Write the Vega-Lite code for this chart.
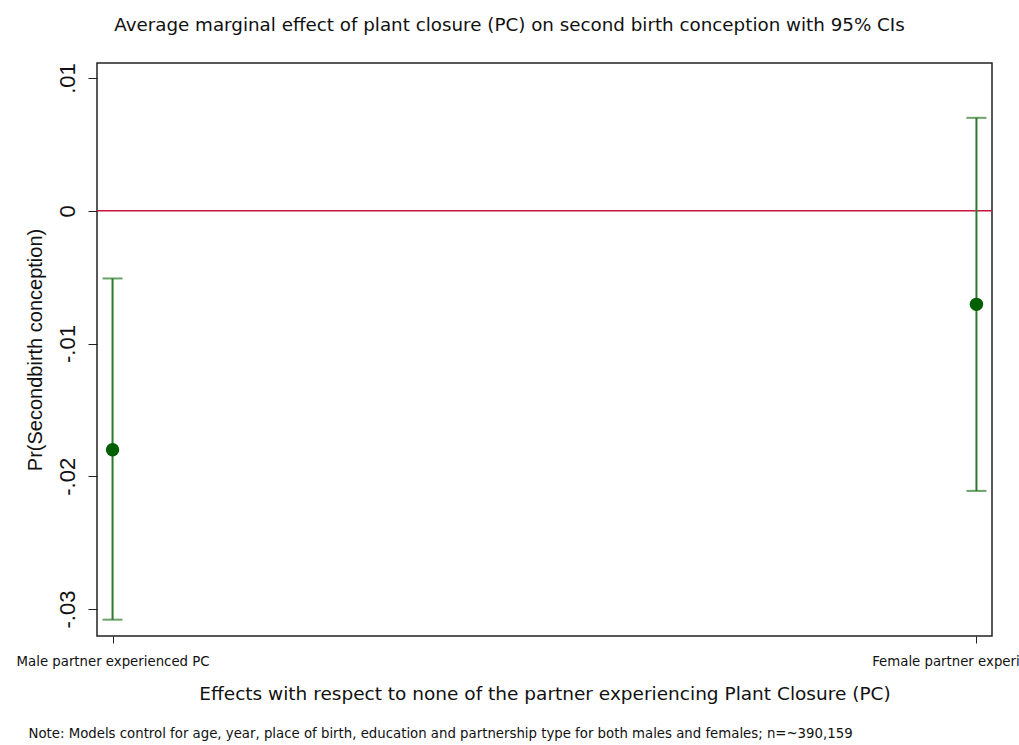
{
  "$schema": "https://vega.github.io/schema/vega-lite/v6.json",
  "autosize": {"type": "none"},
  "width": 895,
  "height": 573,
  "padding": {"left": 97, "top": 63, "right": 27, "bottom": 109},
  "background": "white",
  "title": {
    "text": "Average marginal effect of plant closure (PC) on second birth conception with 95% CIs",
    "anchor": "middle",
    "frame": "group",
    "dx": -35,
    "offset": 27,
    "font": "DejaVu Sans",
    "fontSize": 18.3,
    "fontWeight": "normal",
    "color": "#111111"
  },
  "config": {
    "font": "Liberation Sans",
    "view": {"stroke": "#222222", "strokeWidth": 1.5},
    "axis": {"grid": false, "domain": false, "tickColor": "#222222", "labelColor": "#111111", "titleColor": "#111111", "titleFontWeight": "normal"}
  },
  "datasets": {
    "effects": [
      {"group": "Male partner experienced PC", "effect": -0.0180, "lo": -0.0308, "hi": -0.0051},
      {"group": "Female partner experienced PC", "effect": -0.00705, "lo": -0.0211, "hi": 0.0070}
    ],
    "reference": [{"ref": 0}]
  },
  "resolve": {"axis": {"x": "independent"}},
  "layer": [
    {
      "data": {"name": "reference"},
      "mark": {"type": "rule", "color": "#c8143c", "strokeWidth": 1.6},
      "encoding": {
        "y": {"field": "ref", "type": "quantitative",
              "scale": {"domain": [-0.03203, 0.01113], "nice": false, "zero": false},
              "axis": {"title": "Pr(Secondbirth conception)", "values": [-0.03, -0.02, -0.01, 0, 0.01],
                       "labelExpr": "datum.value == 0 ? '0' : (datum.value < 0 ? '-' : '') + '.0' + abs(round(datum.value * 100))",
                       "labelAngle": -90, "labelAlign": "center", "labelBaseline": "alphabetic",
                       "labelFontSize": 22, "labelPadding": 14, "tickSize": 9,
                       "titleFontSize": 20, "titlePadding": 11}}
      }
    },
    {
      "data": {"name": "effects"},
      "mark": {"type": "rule", "color": "#2b7a2b", "strokeWidth": 2},
      "encoding": {
        "x": {"field": "group", "type": "nominal", "sort": null,
              "scale": {"type": "point", "padding": 0.018},
              "axis": {"orient": "bottom", "title": "Effects with respect to none of the partner experiencing Plant Closure (PC)",
                       "labelAngle": 0, "labelFont": "DejaVu Sans", "labelFontSize": 13.3, "labelPadding": 11, "tickSize": 7,
                       "labelLimit": 0,
                       "titleFont": "DejaVu Sans", "titleFontSize": 18.5, "titlePadding": 17,
                       "labelOverlap": false, "labelBound": false, "labelFlush": false}},
        "y": {"field": "lo", "type": "quantitative",
              "scale": {"domain": [-0.03203, 0.01113], "nice": false, "zero": false},
              "axis": {"title": "Pr(Secondbirth conception)", "values": [-0.03, -0.02, -0.01, 0, 0.01],
                       "labelExpr": "datum.value == 0 ? '0' : (datum.value < 0 ? '-' : '') + '.0' + abs(round(datum.value * 100))",
                       "labelAngle": -90, "labelAlign": "center", "labelBaseline": "alphabetic",
                       "labelFontSize": 22, "labelPadding": 14, "tickSize": 9,
                       "titleFontSize": 20, "titlePadding": 11}},
        "y2": {"field": "hi"}
      }
    },
    {
      "data": {"name": "effects"},
      "mark": {"type": "tick", "orient": "horizontal", "color": "#2b7a2b", "size": 20, "thickness": 2},
      "encoding": {
        "x": {"field": "group", "type": "nominal", "sort": null,
              "scale": {"type": "point", "padding": 0.018},
              "axis": {"orient": "bottom", "title": "Note: Models control for age, year, place of birth, education and partnership type for both males and females; n=~390,159",
                       "labels": false, "ticks": false, "domain": false,
                       "titleFont": "DejaVu Sans", "titleFontSize": 13.3, "titleX": -69, "titleY": 97,
                       "titleAlign": "left", "titleAnchor": "start", "titleBaseline": "middle", "titleLimit": 0}},
        "y": {"field": "lo", "type": "quantitative",
              "scale": {"domain": [-0.03203, 0.01113], "nice": false, "zero": false},
              "axis": {"title": "Pr(Secondbirth conception)", "values": [-0.03, -0.02, -0.01, 0, 0.01],
                       "labelExpr": "datum.value == 0 ? '0' : (datum.value < 0 ? '-' : '') + '.0' + abs(round(datum.value * 100))",
                       "labelAngle": -90, "labelAlign": "center", "labelBaseline": "alphabetic",
                       "labelFontSize": 22, "labelPadding": 14, "tickSize": 9,
                       "titleFontSize": 20, "titlePadding": 11}}
      }
    },
    {
      "data": {"name": "effects"},
      "mark": {"type": "tick", "orient": "horizontal", "color": "#2b7a2b", "size": 20, "thickness": 2},
      "encoding": {
        "x": {"field": "group", "type": "nominal", "sort": null,
              "scale": {"type": "point", "padding": 0.018}, "axis": null},
        "y": {"field": "hi", "type": "quantitative",
              "scale": {"domain": [-0.03203, 0.01113], "nice": false, "zero": false},
              "axis": {"title": "Pr(Secondbirth conception)", "values": [-0.03, -0.02, -0.01, 0, 0.01],
                       "labelExpr": "datum.value == 0 ? '0' : (datum.value < 0 ? '-' : '') + '.0' + abs(round(datum.value * 100))",
                       "labelAngle": -90, "labelAlign": "center", "labelBaseline": "alphabetic",
                       "labelFontSize": 22, "labelPadding": 14, "tickSize": 9,
                       "titleFontSize": 20, "titlePadding": 11}}
      }
    },
    {
      "data": {"name": "effects"},
      "mark": {"type": "point", "shape": "circle", "filled": true, "opacity": 1, "color": "#006000", "size": 180},
      "encoding": {
        "x": {"field": "group", "type": "nominal", "sort": null,
              "scale": {"type": "point", "padding": 0.018}, "axis": null},
        "y": {"field": "effect", "type": "quantitative",
              "scale": {"domain": [-0.03203, 0.01113], "nice": false, "zero": false},
              "axis": {"title": "Pr(Secondbirth conception)", "values": [-0.03, -0.02, -0.01, 0, 0.01],
                       "labelExpr": "datum.value == 0 ? '0' : (datum.value < 0 ? '-' : '') + '.0' + abs(round(datum.value * 100))",
                       "labelAngle": -90, "labelAlign": "center", "labelBaseline": "alphabetic",
                       "labelFontSize": 22, "labelPadding": 14, "tickSize": 9,
                       "titleFontSize": 20, "titlePadding": 11}}
      }
    }
  ]
}
